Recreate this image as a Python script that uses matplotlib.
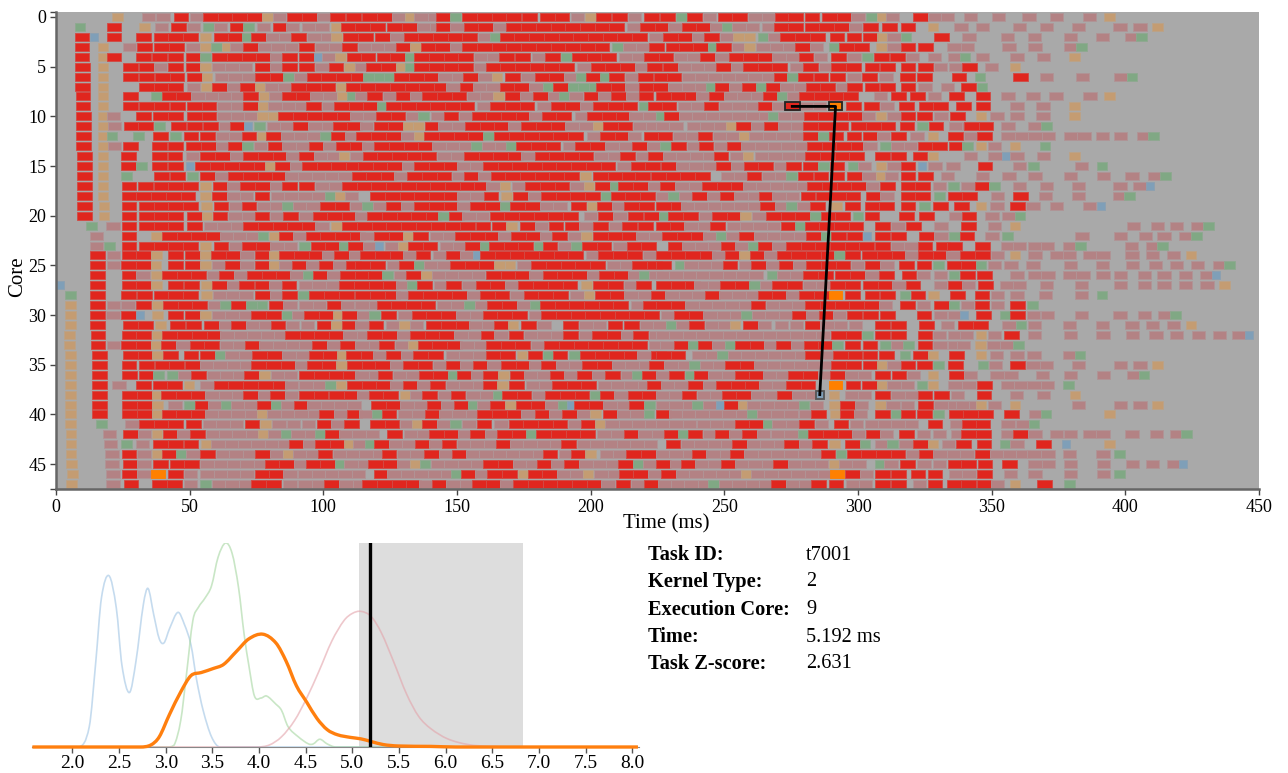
import re
import numpy as np
import matplotlib
matplotlib.use("Agg")
import matplotlib.pyplot as plt
from matplotlib.patches import Rectangle, PathPatch
from matplotlib.path import Path

plt.rcParams['font.family'] = ['Liberation Serif', 'DejaVu Serif']

# Each row: "<start ms><kinds>" - tasks run one after the other from start
TASK_ROWS = [
"21T 32M 37.5M 44R 50M 55RRRR 77T 81M 86.5R 92R 97.5M 102.5R 108.5R 114.5R 120R 125.5M 130.5T 134MM 142R 147.5G 152RRR 168.5R 174.5R 181R 186.5R 192.5M 198T 202R 208R 214M 220R 226R 232G 236R 242M 247.5R 253R 259MM 269R 274R 280R 286.5R 292R 297.5M 303G 307T 310.5M 320.5R 326M 331M 339.7M 350M 361.5M 371.7M 384M 392T",
"7G 19R 31T 37M 43R 49M 55G 59M 65R 70G 75M 81R 86M 92M 97M 103T 106.5RR 117.5R 124R 129.5R 135MM 142R 147.5M 152.5RR 163.5M 168.5RRRRRRRR 213.5M 218.5R 224R 229M 234RR 244.5M 249G 253MM 264M 268.5RR 280RRR 296.5M 302R 309R 316R 326T 336M 344M 358M 368M 380M 395.5M 403M 410T",
"7R 12.6B 19R 30R 36.5RRR 54T 59RR 69.5G 73R 78.5MM 88R 94MM 103T 107.5R 113R 119.5R 125M 130RRRRR 158M 162.5G 166RRRRRRRRRR 222M 227RR 237.8M 242.5R 248.5M 253.4TT 262.5G 266.5M 271RRR 289.4R 295.7R 302R 307T 311M 316G 328.4R 339M 353.5M 363.5M 377M 389M 400M 404G",
"7R 15.6T 25M 30.4R 36.6R 42.3R 48.7M 54T 58G 62T 65M 70R 75.6MM 85.7M 91R 97M 102M 107R 112.8MMM 127R 132.5T 136.4RR 147.5M 152RRRRRRRRRR 208G 212MM 222R 228R 233R 238.4R 243.8G 247R 253M 257.5T 262MMM 276.5R 282M 289G 293RR 306.7T 311M 316R 322.5R 333.4M 338.5M 354M 363.7M 377M 381.7G",
"7R 15.6T 19R 30R 36R 42R 48.5R 54G 58.4RRRR 80M 84.7R 91R 96.5B 99.6M 104.4T 108.7R 114R 120R 125R 130.7G 134RRRR 156.4MM 165.7R 171.7R 178M 183R 189G 193RRR 210.5MM 220R 225.4R 231MM 241R 246.6M 251.6RRR 268MM 277.8R 283.4M 290R 296M 301.6G 306R 312R 318M 326M 333.8M 338G 344M 357M 367M 379T",
"7.2R 15.6T 25R 31R 36.6M 42R 48.5R 54T 58.4MMM 74.4R 80M 84.6R 91R 97M 102R 107.8T 112M 116RR 127T 130.5G 134RRRR 156.4M 160.7RRRRRR 195M 200RRR 216.5M 221R 227R 232.5MMM 247R 252.6M 257RRR 274.4M 279.5R 285.4M 290RR 302.5R 308.4R 316R 322.5R 328.4M 334M 339R 347.5M 356.7T",
"7.2R 15.6T 25R 31R 37RR 49R 54.5T 59.4MMM 74.4RR 85G 89M 93.8RRRR 114.8GGG 126.5RRR 143MM 152.4R 158M 163T 168R 174M 179RR 190M 194.5G 198.4R 203.6G 207R 213M 217.7R 223.6R 228.4R 234MMMMMMM 268.4R 273.5G 277.5R 283.4R 289.6R 296M 301.6R 308M 315.7R 322R 335R 343.6G 358R 368M 381.5M 395.7M 400.5G",
"7.2R 15.6T 31RRR 49M 54.4T 58.5R 64M 69R 74.6T 78MM 88RRR 104.6T 108.4RRRRRRR 146M 151R 156MM 166RR 177M 182G 186R 191.4GGG 202RR 213M 218R 223.5R 229MMM 243G 246.4R 251.6M 256.6R 262G 265.4R 271MM 280.4RR 291.6M 296R 302.5R 308.4R 316R 322.5M 331M 338.5R 344.4G",
"7.4R 15.6T 25R 35.6G 39.5RR 50.6MMMM 70R 75.8T 79.5M 84.4RR 95MM 105T 108.7G 112M 116.5R 122.4M 127R 132.6M 137RRR 153.6MM 163.5T 168R 173.5M 178.4R 184M 188G 192M 197.5R 202.6M 207.6R 213.4M 218R 224.4RRR 239.4M 244.4R 249.8MMM 264.4R 269.8G 273.4M 278RRRR 306M 312.3R 319.6R 326M 334R 344R 353.6M 363M 371.6M 384.3M 392T",
"7.4R 15.6T 25R 31R 36.7R 42.7R 49RR 60.4MM 70R 75.6T 79.4MMM 93.7R 99.4M 104RRR 120G 123.5RRRRRR 157.4M 162.4RRR 180M 185RR 196M 201RRR 218G 221.6R 226.5R 232.5MM 242.3R 248MMM 262.5R 268M 272.8R 278MM 289O 295.6R 302.4R 308.4M 315.3R 322.7RR 336.7R 344R 357M 366.7M 379T",
"7.5R 15.6T 19M 30R 36.3R 42R 49RR 60.4MMM 75.3TT 83RRRRR 110MM 119.7RR 131M 135.5G 140.4M 145R 150.7M 155.5RRRR 177M 181.7RR 194M 198.6RRR 214.5MM 224.4G 227.4R 233MMMMMMM 266.5G 270MM 279.7RRRR 301.4M 306.6T 311M 316R 322R 328.5M 334.4R 344T 349.5M 357M 366.7M 379T",
"7.5R 15.6T 19.4M 25.3R 30.7R 36.7G 43R 49R 55R 61M 65R 70.4B 74G 78.8MM 88.8R 94.4MM 103.8R 109R 113.6M 118.8RR 129.8T 133.5T 138R 143MM 153RRR 169M 174RRR 190.5M 195.8M 200.9T 204.6RR 215.8MM 224.4MM 236MMM 250.8T 254.4R 259.8M 264.8R 270MM 279.6RRR 297.5R 303RR 315.6R 322G 326.4R 334MM 339.6RR 353.6M 363.7M 368.5G",
"7.6R 15.6T 19G 28.9G 36.4R 42.6G 47.8R 54R 59.7MM 69.4R 75T 78.7R 84MMM 98.9G 102.8R 108M 112.3R 118R 123.5R 129M 134T 137.8RRRR 159.9G 164RRRRRR 198.6M 203.5RR 214M 219.8R 225R 230.7MM 240R 245.6MM 255.3T 259.4MMMM 279.4R 285G 289R 295.7R 301.7R 307M 312.5R 319.6M 326T 333.8R 339.5M 344.5R 353.6MM 363.7MM 377MM 389M 395.7M 404.4M 408.6G",
"7.6R 15.6T 19.4M 25R 35.9R 42R 48.8RR 59.7M 64.4R 69.6G 74M 79.4R 84.7MM 94.5R 99.7M 104.7R 110R 114.5M 119RRRR 140.7MMM 155.4G 159.4MM 168.5G 172.2RRR 189.5M 194.2RR 205.5MM 215.5R 221M 226G 230R 236M 240.4R 246M 251R 256.3MMMMM 280.9RRRR 302M 308.4G 312.2MM 322.3RR 334R 339G 344T 348.6M 356.7T 368G",
"7.8R 15.6T 24.4R 36R 41.8R 48.5M 54RR 65M 70RRR 86M 91R 96.5MM 105.7T 110M 114.7RRRRR 142.6MM 152.6RRRR 174M 179RRRR 201.4M 206.4M 211R 216.8M 221.6R 227MMMM 246R 252M 256.9T 261.4MMMM 280.3RRRR 306.3R 312.3R 320.4R 326T 339.5M 348.7M 354B 357M 367M 379T",
"7.9R 15.6T 24.4R 30G 36R 41.9R 48.5B 52RRRRR 78T 82R 87.5M 92RRRR 113RRR 129.4M 134RRR 150MM 159.7RRRRRRRRR 210M 215RR 226.3R 231.9MMM 246.9R 252.5M 257.2RR 268.4M 273.1R 279.4R 285G 289.4R 296.3G 300M 306.6T 311M 316R 322.3B 326.3M 333M 344.8R 357.8M 363.6G 381M 389.3G",
"7.9R 15.6T 24.5G 36.6R 42.7R 49G 54R 59.4M 64.4RRRR 85.6M 90.6MMMM 110.6RRR 126.6M 131.4RRR 148M 152.6R 158M 162.6RRRRRR 196T 200.8RRR 216.7R 222.5RRRR 248.8MM 258.4R 264MM 273G 277.5R 283.4R 289.4R 295.9R 301.6M 306.6T 310M 316R 322.5R 331M 344M 354M 363.7M 377M 389.3M 400M 408.6M 413G",
"7.9R 15.6T 24.6R 30.7R 36.5RRR 54T 58.7R 64M 69RR 79.9M 84.5R 91R 97M 102M 107R 112.5RRRRRRRRR 161M 166T 170.6M 175.5RRR 192.4M 197.4T 201.6R 207.2G 210.4RR 221.6M 226R 231.6MM 241.6RRR 257MMMMM 281RRRR 303M 308.4R 316RR 328M 333.8G 338.6M 343.6R 349G 358M 368M 380M 395.5M 403M 407.6B",
"7.9R 15.6T 24.6RRRRR 54T 58.4R 63.8MM 74.3R 80.4MM 90.6MM 100.6G 104.4T 108M 117.6RRRRRR 150MM 160R 166.5T 171R 176.6M 181.4RRRR 203.9G 207.5RRR 224.4M 229G 233M 238R 243.4M 248.4R 253.8MM 263R 268MM 278.5R 284.4RRR 303R 308.4M 316RR 328.5G 333.8R 339R 349.8M 358R 367.7M 380M 395.5M 399.6G",
"8R 15.9T 24.6R 31RRRR 54.4T 59R 64.7M 69.4R 75MM 84.7G 88.7MM 98.7RR 110M 114.5G 118.6M 123.6R 129M 134RRR 150M 155RR 166G 170RR 181MM 192.6R 198.5T 202.4R 208M 212.6RR 224.5RR 233.8MMMMMM 263.4R 268.8M 273G 277M 282R 290T 295.3R 302.5RR 316R 322.8G 328R 336R 344T 349.5M 357R 363M 371.7M 384M 389.4B",
"8R 15.9T 24.6R 31RRR 49R 54.5T 58.6R 64.4MM 74.3R 80M 85R 91M 96RRR 112M 116.4RRRRR 143G 147R 152MM 162.2RRRRRR 197.5M 202.7R 208.5M 214R 220R 225.4G 229RR 240.4M 245.4RR 256T 260.4M 265.6RRR 282G 286RR 298G 302.5R 315.4R 322.8R 334M 338.8R 347.6M 354M 358.6G",
"11.3G 18.8M 24.6R 31RRR 49R 55.3MMM 70RRRRR 97M 102.8T 107R 112.6RRRRRRRR 157R 163R 168.3T 173.5R 179M 184.3R 190.4R 195.8M 201R 207M 211.8R 217.7R 224.4R 229.6R 235MM 244.8R 250.9MMMM 271.3R 276.6G 280RRRR 306.3R 312.5M 317.9R 328.5M 338.5R 348.5M 356.7T 400.5M 409.5M 416.7M 424.7M 429.2G",
"12.7M 24.6R 35.6T 39.6RRRR 61.2MMM 75.4G 79.6T 83.4R 88.8M 93.4RRRR 113.8M 118.9RR 129.8T 133.5R 139.8MM 149.3RRR 165.5M 170.3RR 181M 185.5R 191.4M 196.4T 200.8RRR 216.8MM 226.7RRR 242M 246.7G 250.5M 255.6R 261MMMM 280.6R 286.3G 290R 296R 302B 306.3R 312.5R 322.8R 328.5M 334G 338R 347.6M 353.8G 381.3M 395.7M 405M 412M 420M 424.6G",
"12.7M 17.9G 24.6R 31RRRR 54T 59R 64.7M 69.4RR 80.2MM 90.9G 95.2RR 105.8G 109.4R 114.7M 119.5B 123M 128T 131.7RR 143.6MM 153R 158.5G 162RRR 178.9G 182R 187.6M 192.6G 196.7RR 208.5M 213.5RR 229R 234MMM 248.8R 254M 258.8G 262.5R 268M 273RRRR 295RR 306.3R 312.3MM 322.3R 329R 333.4R 343.8R 353.6M 358M 363.6M 368.4M 376.7M 381.3G 399.8M 407.6M 412G",
"12.8R 19M 24.6RR 35.6T 41.9R 48.2R 54T 58RR 69M 74.3R 79.6T 83.5RRR 99.4M 104R 109.6M 113.8RRR 129.7M 134.5R 141M 145.7R 151M 156B 158.7RRRRRRR 198.3M 202.7RRR 219.5M 224.4RRRR 245.4M 250.3R 255.6T 259.5R 265M 269.6RRRR 291G 295.3R 301.6RRR 317.5M 322.5R 327.9R 333M 338.2R 343.8R 349.8M 356.7T 363.7M 371.7M 376.7M 384.3M 389.2M 400M 407.7M 415.6M 422.6T",
"12.9R 19M 24.4RR 35.4T 41.9R 48.2R 54T 58.5M 63.4R 69M 74.3R 79.6T 83.4M 88.3R 93.5M 98.4R 103.8M 108.5R 112RR 123.9M 128.4R 133.8G 137.5MM 147.4RRR 163.8TT 172.6M 177.8RRRRR 206MM 215.5R 221R 224.4R 231.5G 235MMM 249.4R 255.3M 259.9R 265.4M 270.3R 275.6M 280.6RRR 297.3M 302.6R 308.4M 315.5R 321.9R 328G 333.3R 338.5R 344G 348.5M 354.8M 363M 377M 389M 400.2M 408.8M 416.7M 424.6M 432.7M 437G",
"12.9R 24.6R 30M 35.6T 39.6RRR 56.3M 61R 66.5M 71.4RRR 87.5M 92.3G 96R 101.5M 106.3R 112R 116.7R 122G 126.4M 131R 136.5T 140.5MMMM 160.8RRR 177M 182RRR 198.5M 203.3RR 214M 218G 222M 224.4MMMMMMMM 265.9G 269.6MM 279.5RR 291.5RR 302.8M 308R 316.3R 321.9M 328.4M 333.9G 338.3R 344.7R 357M 363.6MM 376.7MM 389.2M 395.7M 404.6M 412M 420M 428M 432.4B",
"0B 12.9R 24.6RR 35.6T 41.9R 48R 54.4T 58.5R 63.8M 68.5R 74.3R 79.6M 84.4R 90.9MMM 105.9RRRR 127M 131.4G 135R 141.4M 146R 152M 157RR 168M 173RRRR 196.4T 201RR 212.3M 217R 224.4RRR 238.8MM 248.5RR 259.4G 263.4M 268RR 279.4MM 289.6RR 302RR 312.9M 317.8R 328.4M 333.8R 338.8M 345R 353.3M 358M 368M 381M 395.7M 404.7M 412M 420M 428M 435T",
"3.4G 12.9R 24.4R 30.4R 36.5RRR 54.4T 58.6MMM 74.4R 80M 84.6R 90.6G 94.8RRR 112RRR 127M 131.6RRRR 153.9M 158.6RR 169.9M 174.9RRR 192.4M 197.4T 201.8RR 212.6MM 222.6R 227.9MMM 242.8R 248MMM 262.5RR 273M 278RR 289O 295.3R 302.5R 308.4R 315.6G 319.7R 326.3T 334.4R 343.6R 349.8M 357M 367.6M 381M 389.3G",
"3.4T 12.9R 19M 24.5M 30R 36T 40RRR 56.9M 61.5G 65.6R 71GG 79.6R 85M 91M 96M 101.3R 106.5MM 112MM 119.9RRRR 142.6MM 152.6G 156.6M 161.4RR 172.4M 177.3G 181RRRRRR 215M 219.5R 224.4RR 235.4MMMMM 259.8R 265.4MMM 280.3RRRRR 307.9M 315.8R 321.9M 328.4R 333.9G 338.4M 343.6R 349.6M 357R 363.3G",
"3.4T 12.9R 18.8M 24.4R 30B 36T 42R 48.3R 54T 58.4MMM 73RR 84.4G 88.4M 92.9RR 103.5T 107R 112.7M 117.2G 121.7R 128M 133RRR 149.7MM 159.6RRR 176.8M 181.5RRRRRRRR 226.3M 231.3RR 242.2MMM 256.3G 260.3MMM 275.3R 280.7M 285.3R 290.6M 296R 302R 308.4R 321.9R 328.4M 333.8M 338.2B 344.2R 353.3G 357R 363.2M 368.3M 381.2M 395.5M 404.7M 412.2M 416.7G",
"3.4T 12.9R 25.2RR 37.2T 42.8R 48.6R 55.3R 60.8M 65.5R 71MM 80.3R 86M 91.5M 97.5R 103T 107R 112M 117R 123.3M 128.3T 132.3M 138.5RRR 154.4MM 163.9R 169T 173.9R 180M 189.8R 195.8MM 206.3R 212.4R 218.5M 223.3M 228G 232M 236.9R 242.6MM 252T 257R 262.5M 268.8M 274.4M 280.3R 285.9MM 296.5M 306.3R 312.5R 322.8R 331M 337.5RR 354M 359G 363.6M 376.7M 389M 400M 407.7M 415.6M 422.6T",
"3.1T 13R 24.6RR 36T 39.8RRRR 61.5MMMMM 85.6RRRR 107.5MM 116.5RR 127.6M 132.4RRR 149MM 158.9R 164M 169.3R 175MMM 189.8R 195.8M 200.5RR 211.3M 216R 222M 224.4MMMMMMMMMMMMM 290RR 301.6G 306.3R 312.3R 322.3R 328M 333.5M 338M 344T 348.6M 354.8R 363.6M 377M 389.2M 400.2M 409M 416.7M 424.8M 432.7M 440M 444.8B",
"3.1T 13R 19M 24.4RR 35.6T 39.4R 45M 50RR 61.3MM 70.8R 76MMM 91M 95.8R 101.3M 106.3R 112MM 120.8R 126.8M 131.5T 135.3RRR 151.3MM 160.8RRR 177.6M 182.6RRRRRRR 221.8M 226M 231.3R 236.4G 240R 245.4M 250.3G 254RR 265M 269.4R 275M 279.7RR 290.3G 295.3R 301.7R 308.2G 312.3M 317G 322.3R 328.2M 333.5M 337M 343.8T 348.3M 353.3M 358G",
"3.4T 13.4R 25RR 36T 40R 47.8R 54R 59.5G 63.4MM 73.4RR 84.6MM 94.5RR 105T 108.5RR 118.5M 123.5R 129M 133.6RR 145.8MMM 160.7RR 172.3T 176.4R 182G 185.8R 192G 196RRRR 217.4M 222.6R 224.4RR 238MM 247.3G 251.3MMMMMM 280.3R 286M 290.6RR 301.7R 308R 315.6G 320.6R 326T 334R 344T 349.4M 357M 363.3M 376.7M 381G",
"3.4T 13.4R 24.6R 31R 36.9RR 48.4R 53.8MMMM 73RRR 89.3M 94RR 104.8T 108.8RR 119.5R 125M 129.8RR 141M 145.8R 151M 155.9R 161.4M 166.4RR 177M 181.6R 187MM 196.8RR 207.9MMM 222R 227.5MM 236.9G 240.9MM 250.4RR 261MMMMMM 290R 295.6R 301.9R 307T 311M 316R 322R 328G 333.8R 344.8G 349M 357R 363MM 380M 395.6M 403M 410T",
"3.4T 13.4R 24.8R 30.9R 36.3G 41.6G 45.6M 50.6R 56.3MMM 70.5R 76T 80.3MM 91RRRR 112MM 120.3R 126MM 135.6RR 146.6G 150R 155.4M 159.9R 165.4T 169.8R 175MM 184.8R 190M 195R 200.6M 205.5R 211.4M 215.6G 219.3R 224.4M 229.4R 235.2G 238.5R 244MM 253.9RR 264.4MM 274RR 285M 289.6R 295MM 306.4R 312.6R 318.2M 326T 334R 339.5M 349.5M 354.8M 366.5M 377M 389.3M 400.5M 405G",
"3.4T 13.5R 21M 30R 36.1RR 47.8T 54M 59RRRRR 85.6M 91MM 100.6G 104.6T 108.8RRR 124.9M 129.9R 135M 140R 145.8MMM 159.9R 165T 169.5R 175.8MM 185.5RRR 202.6MMMM 221R 226.3MM 236.5R 241.9M 246.9RRR 263MM 273RR 289O 295.4R 301.6R 307T 310.9MM 321.9G 326T 333.8M 339M 344.5R 353.5MM 363.3MM 376.7G",
"3.4T 13.5R 24.8RR 36T 39.4RRR 55.9MMM 70R 75.6M 80R 85.6M 90.9RR 102.3R 107.8R 112.6M 117RR 128.5T 132.3M 137R 143M 147.6R 153.5MM 163.3G 166.8RR 178M 183RRR 199.9G 203.5R 208.9M 213.8RR 224.4MM 234R 239.6MM 249RR 260MM 269.7R 275.4MM 284.2B 289T 295MM 306.3R 312.5MM 322.3R 328.5R 334.7M 344.4R 356.9M 366.8M 379.2T",
"3.4T 13.5R 24.8RR 35.9T 42M 47.9G 51.9R 57M 61.9G 65.5MM 75R 80.6G 84M 89R 94MMMM 117.8RR 128.8MM 138.6R 144M 148.8R 154G 157.6M 162.4R 167.9T 172RR 182.9M 187.6G 191B 193.9RR 204.8MM 214.5R 220G 224.4MMM 237.9G 241.9M 246.9B 249.8R 255T 258.4MMMM 277.8G 281.9M 289.2T 293.4R 298.8M 306.5T 310.6M 315.9M 322.5R 328.5M 333.8M 336.7MM 344T 348.6M 356.7T 380M 395.6M 403M 410T",
"3.4T 13.5R 24.8RR 35.9T 39.5RRR 55.6MMMM 75T 79.1MMMM 98.5R 104M 108.8R 113.5M 118.3G 121.8R 128MM 138R 143.3MMM 157.6RRR 174M 179R 184.4M 189.3R 194.9M 199.9T 204.5R 209.8MM 219.8G 224.4R 229.2MMMMMM 258.6G 262.4M 267.5MM 277.8M 282.6R 289.4T 293.4R 298.5M 306.3R 312.2G 315.9R 322R 328G 334R 339.4RR 354.8R 364M 368.3G 392T",
"3.4T 15G 25.9M 31RRR 48.8R 55MMM 70.6R 76.3T 80.9M 86.3M 92M 97.5R 103M 107.9R 117.4RR 128.6M 133T 137R 142.6M 147.5G 152M 157.3R 163.9M 169.3RRRR 191.4M 196.3R 201.6T 205.5MMMM 224.4MMM 239.6MMM 253.9RR 264.6G 268MM 278R 283.8M 290.9R 296.9M 302.5MMMM 326R 334.4M 339R 344R 353.6M 359M 363.8G",
"3.6T 17.6M 25R 30.6M 35.8T 40R 45.4M 50.3R 56MMMM 75.6T 79.4M 84.3G 88MM 97G 100.6R 105.8MMM 124R 130MM 139.6RR 150.4M 155R 160.5M 165RR 175.8G 179.6RRRR 202.5MM 212.3R 217.8MM 227.6R 232.8G 236.3R 241.9M 246.5R 251.9M 256.6R 262.1M 267.5MM 277.5G 281.4RRR 297.8M 302.9R 308.2M 315.4R 322.1M 328M 334.8M 338.6RR 353.6M 358R 363.7M 371.7M 377M 384.3M 389.2M 400M 409.2M 416.7M 421G",
"3.6T 17.9M 24.5G 29.8M 36.3R 41.9R 47.8R 54.3T 58.1MMMMMM 87R 92.4M 97RR 107.8T 111MM 115.4G 119R 124.4MM 134.3R 139.5M 144.3R 150MMM 164.5R 169.8MMMM 189R 194.9MMMMMM 228R 233.8MMMM 253R 258.5MMM 272.5R 277.9M 282.8R 289.2T 295.3R 300.6G 306.3M 311G 315.4M 320.6R 326T 331.3M 336.7R 344.4R 353.3G 357M 366.7R 376.4B 392T",
"3.6T 18.5M 24.6R 30.4M 35.8T 39.6R 45G 48.8M 54R 59.8MMM 74.4R 80M 84.8T 88.5MM 97.9R 103.5MMMM 121.8R 127.6MM 137.8R 143.3M 148R 153.3MMMMMM 182R 188M 192.6R 198T 203.5MM 213.4RR 224.4MMM 237.9R 243.2MM 252R 257.5MMMMMM 286R 291.6G 295.7RRRR 317.8M 322.8R 328.2M 333.4M 338.3M 343.7R 349.2MMM 363.4M 368.6M 376.7M 389.2M 395.7G",
"3.9T 18.5M 24.9R 30.4M 36.4R 42.5RR 54M 59M 64MMM 78RR 89M 93.4RR 104.4G 107.9MM 116.8RR 127.5M 132.3T 136G 140.3MMMM 159.8RR 170.8MM 180R 185M 190R 195.8MMM 210.3R 215.8G 219.4M 224.4R 229.6M 233.8R 239MM 248.8R 254MMM 268.2R 273.8MMM 289.2T 292.9MM 306.3G 309.8M 315.7R 322.2M 328M 333.8R 338.6R 344.8R 354R 363.7MM 377M 389.4M 400.2M 407.7M 415.6M 420B",
"4.1T 18.8M 24.8R 30.4M 35.6O 41.9R 47.8M 54MMMM 74.3RR 85M 90.6MMMMM 118.9R 124MMMMM 147.9G 151.6R 156.8M 161.3RR 172.9T 176.4RR 187.4MM 197T 201.3MM 210.5RR 221.6M 226.3R 231.9MMMMM 256.3T 260MMMMMM 289.4O 295.3R 300.7M 306.3R 312.5R 319.7R 326R 334M 339M 344.5R 354.5M 363.7M 377M 389.3M 395.8G",
"3.9T 18.8M 25.3R 36RR 47.9M 54G 58.4MMM 73RR 85M 90.6MM 100.4R 106MMM 114.5RRRR 135.8M 140.5R 146MM 155.5RR 166M 171RRRRRR 204M 209.3R 215M 219.9R 225MMMM 244G 248MMMM 267.5R 272.9MM 282.5R 289R 295.4MM 306.3R 312.5R 320.6M 326R 333.4R 338.6R 344.5R 349.8M 356.7T 367R 377G",
]

KIND_DURATION = {"R": 5.5, "M": 5.0, "T": 4.0, "G": 4.0, "B": 3.0, "O": 5.2}

SELECTED_TASK = (272.8, 9)
SELECTED_NEXT = (289.0, 9)
SELECTED_PREV = (284.2, 38)

# Density curves: x in ms, y as a share of the tallest peak
BLUE_X = [1.57, 2.07, 2.18, 2.25, 2.31, 2.39, 2.47, 2.53, 2.61, 2.68, 2.76, 2.81, 2.87, 2.93, 2.98, 3.04, 3.13, 3.2, 3.27, 3.33, 3.4, 3.49, 3.58, 8.06]
BLUE_Y = [0, 0, .1, .42, .73, .84, .68, .4, .267, .42, .7, .777, .65, .53, .51, .58, .66, .6, .5, .33, .18, .05, 0, 0]
GREEN_X = [1.57, 3.02, 3.09, 3.16, 3.22, 3.29, 3.35, 3.42, 3.49, 3.56, 3.64, 3.71, 3.78, 3.84, 3.89, 3.95, 4.02, 4.08, 4.18, 4.24, 4.31, 4.42, 4.53, 4.58, 4.65, 4.73, 4.82, 8.06]
GREEN_Y = [0, 0, .01, .13, .35, .62, .685, .73, .79, .93, 1.0, .95, .78, .55, .4, .25, .24, .25, .21, .18, .1, .05, .015, .015, .038, .015, 0, 0]
PINK_X = [1.57, 3.98, 4.11, 4.24, 4.38, 4.51, 4.64, 4.78, 4.91, 5.0, 5.09, 5.2, 5.31, 5.44, 5.58, 5.71, 5.84, 6.02, 6.24, 6.47, 6.82, 8.06]
PINK_Y = [0, 0, .01, .05, .13, .24, .37, .52, .62, .655, .665, .64, .56, .42, .26, .15, .09, .04, .012, .003, 0, 0]
ORANGE_X = [1.57, 2.73, 2.84, 2.93, 3.04, 3.16, 3.27, 3.38, 3.51, 3.62, 3.76, 3.89, 4.04, 4.18, 4.29, 4.4, 4.51, 4.62, 4.73, 4.84, 4.98, 5.09, 5.2, 5.33, 5.49, 5.84, 6.11, 8.06]
ORANGE_Y = [0, 0, .01, .05, .16, .27, .35, .365, .385, .405, .47, .53, .553, .51, .42, .3, .22, .14, .085, .06, .047, .04, .027, .012, .005, .003, 0, 0]

Z_BAND = (5.07, 6.83)
TASK_TIME = 5.192
INFO_LABELS = ["Task ID:", "Kernel Type:", "Execution Core:", "Time:", "Task Z-score:"]
INFO_VALUES = ["t7001", "2", "9", "5.192 ms", "2.631"]

W, H = 1288, 773
fig = plt.figure(figsize=(W / 100, H / 100), dpi=100, facecolor="white")

def axes_px(l, t, r, b):
    return fig.add_axes([l / W, 1 - b / H, (r - l) / W, (b - t) / H])

FILLS = {"R": "#e0261e", "M": "#b38284", "T": "#c49c72", "G": "#80a884", "B": "#7f9fb8", "O": "#ff8000"}
EDGES = {"R": "#d24a44", "M": "#b09496", "T": "#bba288", "G": "#8fa891", "B": "#8ca0b0", "O": "#ff8000"}

ax = axes_px(56, 12, 1259, 489)
ax.set_facecolor("#a9a9a9")
ax.set_xlim(0, 450)
ax.set_ylim(47.5, -0.5)
token = re.compile(r"([\d.]+)([A-Z]+)")
for row, text in enumerate(TASK_ROWS):
    for start, kinds in token.findall(text):
        t = float(start)
        for k in kinds:
            ax.broken_barh([(t, KIND_DURATION[k])], (row - 0.4, 0.8),
                           facecolor=FILLS[k], edgecolor=EDGES[k], linewidth=0.6, zorder=2)
            t += KIND_DURATION[k]

for t, r, k in [(SELECTED_TASK[0], SELECTED_TASK[1], "R"), (SELECTED_NEXT[0], SELECTED_NEXT[1], "O"), (SELECTED_PREV[0], SELECTED_PREV[1], "B")]:
    ax.add_patch(Rectangle((t, r - 0.4), KIND_DURATION[k], 0.8, facecolor="none",
                           edgecolor="#222222" if k != "B" else "#555555", linewidth=1.3, zorder=3))
ax.plot([SELECTED_TASK[0] + 2.6, SELECTED_NEXT[0] + 2.6, SELECTED_PREV[0] + 1.5],
        [SELECTED_TASK[1], SELECTED_NEXT[1], SELECTED_PREV[1]],
        color="black", lw=2, zorder=4, solid_joinstyle="round")

ax.set_xticks(np.arange(0, 451, 50))
ax.set_yticks(np.arange(0, 46, 5))
ax.set_yticks([-0.5, 47.5], minor=True)
ax.tick_params(axis="both", which="major", labelsize=13, length=4, width=1, color="#444444", pad=3)
ax.tick_params(axis="y", which="minor", length=4, width=1, color="#444444")
for side in ("top", "right"):
    ax.spines[side].set_visible(False)
for side in ("left", "bottom"):
    ax.spines[side].set_color("#666666")
    ax.spines[side].set_linewidth(1.8)
fig.text(666 / W, 1 - 524 / H, "Time (ms)", ha="center", va="center", fontsize=15)
fig.text(18 / W, 1 - 277 / H, "Core", ha="center", va="center", rotation=90, fontsize=15)

kde = axes_px(32, 543, 638.5, 747)
kde.set_xlim(1.566, 8.066)
kde.set_ylim(0, 1.0)
kde.patch.set_visible(False)
kde.axvspan(*Z_BAND, color="#dddddd", lw=0, zorder=1)

def smooth_line(axis, xs, ys, **kw):
    """Bezier through the read points (each point is kept as read)."""
    xs, ys = np.asarray(xs, float), np.asarray(ys, float)
    verts, codes = [(xs[0], ys[0])], [Path.MOVETO]
    for i in range(len(xs) - 1):
        p0 = i - 1 if i else i
        p3 = i + 2 if i + 2 < len(xs) else i + 1
        h = xs[i + 1] - xs[i]
        m1 = (ys[i + 1] - ys[p0]) / (xs[i + 1] - xs[p0])
        m2 = (ys[p3] - ys[i]) / (xs[p3] - xs[i])
        verts += [(xs[i] + h / 3, max(ys[i] + m1 * h / 3, 0)),
                  (xs[i + 1] - h / 3, max(ys[i + 1] - m2 * h / 3, 0)),
                  (xs[i + 1], ys[i + 1])]
        codes += [Path.CURVE4] * 3
    axis.add_patch(PathPatch(Path(verts, codes), facecolor="none", **kw))

smooth_line(kde, BLUE_X, BLUE_Y, edgecolor="#a6c8e6", lw=1.2, alpha=.65, zorder=2)
smooth_line(kde, GREEN_X, GREEN_Y, edgecolor="#a5d6a0", lw=1.2, alpha=.6, zorder=2)
smooth_line(kde, PINK_X, PINK_Y, edgecolor="#e3a3aa", lw=1.2, alpha=.6, zorder=2)
smooth_line(kde, ORANGE_X, ORANGE_Y, edgecolor="#ff7f0e", lw=2.4, zorder=3, clip_on=False)
kde.axvline(TASK_TIME, color="black", lw=2.4, zorder=4)
kde.set_xticks(np.arange(2, 8.01, 0.5))
kde.set_yticks([])
kde.tick_params(axis="x", labelsize=14, length=4, width=1, color="#555555", pad=2)
for side in ("top", "right", "left"):
    kde.spines[side].set_visible(False)
kde.spines["bottom"].set_color("#888888")

for y, lab, val in zip([555, 582, 610, 637, 664], INFO_LABELS, INFO_VALUES):
    fig.text(648 / W, 1 - y / H, lab, fontsize=14.7, fontweight="bold", va="center")
    fig.text(806 / W, 1 - y / H, val, fontsize=14.7, va="center")

fig.savefig("out.png", dpi=100, facecolor="white")
